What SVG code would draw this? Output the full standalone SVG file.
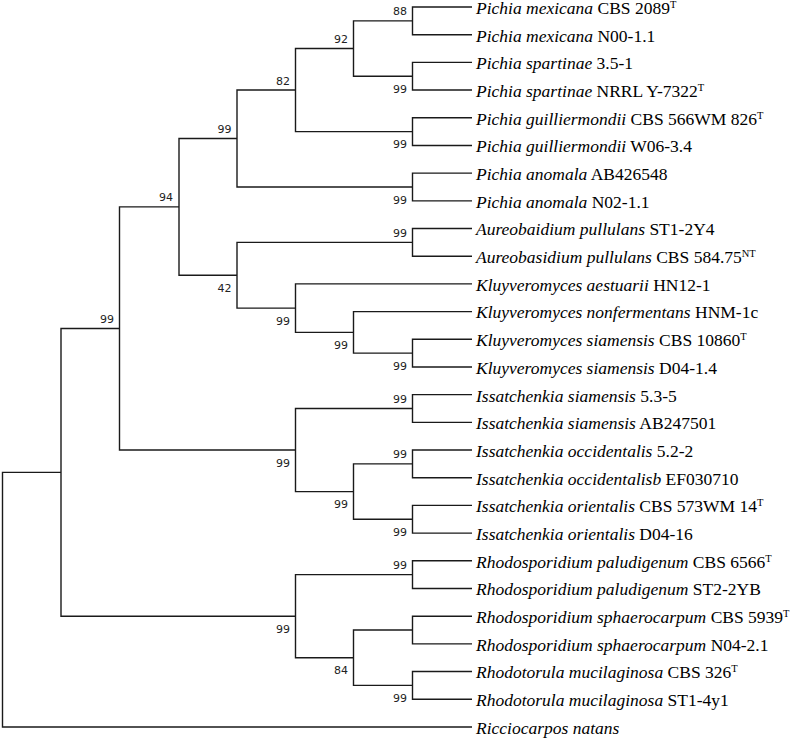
<svg xmlns="http://www.w3.org/2000/svg" width="800" height="739" viewBox="0 0 800 739">
<style>
.br{fill:none;stroke:#1a1a1a;stroke-width:1.4}
.bs{font-family:"DejaVu Sans",sans-serif;font-size:11px;fill:#222;text-anchor:end}
.lf{font-family:"Liberation Serif",serif;font-size:17.5px;fill:#000}
.sp{font-style:italic}
.sup{font-size:10.5px}
</style>
<rect width="800" height="739" fill="#fff"/>
<g id="connectors" class="br">
<path d="M472,7 H412.5 V34.69 H472"/>
<path d="M472,62.38 H412.5 V90.07 H472"/>
<path d="M472,117.76 H412.5 V145.45 H472"/>
<path d="M472,173.14 H412.5 V200.83 H472"/>
<path d="M472,228.52 H412.5 V256.21 H472"/>
<path d="M472,339.28 H412.5 V366.97 H472"/>
<path d="M472,394.66 H412.5 V422.35 H472"/>
<path d="M472,450.04 H412.5 V477.73 H472"/>
<path d="M472,505.42 H412.5 V533.11 H472"/>
<path d="M472,560.8 H412.5 V588.49 H472"/>
<path d="M472,616.18 H412.5 V643.87 H472"/>
<path d="M472,671.56 H412.5 V699.25 H472"/>
<path d="M412.5,20.85 H353.5 V76.23 H412.5"/>
<path d="M353.5,48.54 H295.5 V131.6 H412.5"/>
<path d="M295.5,90.07 H237 V187 H412.5"/>
<path d="M472,311.59 H353.5 V353.13 H412.5"/>
<path d="M472,283.9 H295.5 V332.36 H353.5"/>
<path d="M412.5,242.37 H237 V308.13 H295.5"/>
<path d="M237,138.54 H179 V275.25 H237"/>
<path d="M412.5,463.88 H353.5 V519.27 H412.5"/>
<path d="M412.5,408.5 H295.5 V491.58 H353.5"/>
<path d="M179,206.9 H119.5 V450.04 H295.5"/>
<path d="M412.5,630.03 H353.5 V685.4 H412.5"/>
<path d="M412.5,574.65 H295.5 V657.72 H353.5"/>
<path d="M119.5,328.47 H61 V616.18 H295.5"/>
<path d="M61,472.33 H2.5 V726.94 H472"/>
</g>
<g id="bootstrap">
<g id="n-mex"><text class="bs" x="407" y="15.3">88</text></g>
<g id="n-spa"><text class="bs" x="407" y="92.7">99</text></g>
<g id="n-gui"><text class="bs" x="407" y="148.1">99</text></g>
<g id="n-ano"><text class="bs" x="407" y="203.5">99</text></g>
<g id="n-aur"><text class="bs" x="407" y="236.9">99</text></g>
<g id="n-ksi"><text class="bs" x="407" y="369.6">99</text></g>
<g id="n-isi"><text class="bs" x="407" y="403">99</text></g>
<g id="n-iocc"><text class="bs" x="407" y="458.4">99</text></g>
<g id="n-iori"><text class="bs" x="407" y="535.8">99</text></g>
<g id="n-pal"><text class="bs" x="407" y="569.2">99</text></g>
<g id="n-rmu"><text class="bs" x="407" y="701.9">99</text></g>
<g id="n-G"><text class="bs" x="348" y="43">92</text></g>
<g id="n-F"><text class="bs" x="290" y="84.6">82</text></g>
<g id="n-D"><text class="bs" x="231.5" y="133">99</text></g>
<g id="n-C"><text class="bs" x="173" y="201.4">94</text></g>
<g id="n-E"><text class="bs" x="231.5" y="291.8">42</text></g>
<g id="n-H"><text class="bs" x="290" y="324.6">99</text></g>
<g id="n-I"><text class="bs" x="348" y="348.9">99</text></g>
<g id="n-B"><text class="bs" x="114" y="323">99</text></g>
<g id="n-Is"><text class="bs" x="290" y="466.5">99</text></g>
<g id="n-J"><text class="bs" x="348" y="508.1">99</text></g>
<g id="n-R"><text class="bs" x="290" y="632.7">99</text></g>
<g id="n-K"><text class="bs" x="348" y="674.2">84</text></g>
</g>
<g id="leaves" class="lf">
<g id="leaf1"><text x="476" y="13.8"><tspan class="sp">Pichia mexicana</tspan> CBS 2089<tspan class="sup" dy="-6">T</tspan></text></g>
<g id="leaf2"><text x="476" y="41.5"><tspan class="sp">Pichia mexicana</tspan> N00-1.1</text></g>
<g id="leaf3"><text x="476" y="69.2"><tspan class="sp">Pichia spartinae</tspan> 3.5-1</text></g>
<g id="leaf4"><text x="476" y="96.9"><tspan class="sp">Pichia spartinae</tspan> NRRL Y-7322<tspan class="sup" dy="-6">T</tspan></text></g>
<g id="leaf5"><text x="476" y="124.6"><tspan class="sp">Pichia guilliermondii</tspan> CBS 566WM 826<tspan class="sup" dy="-6">T</tspan></text></g>
<g id="leaf6"><text x="476" y="152.3"><tspan class="sp">Pichia guilliermondii</tspan> W06-3.4</text></g>
<g id="leaf7"><text x="476" y="179.9"><tspan class="sp">Pichia anomala</tspan> AB426548</text></g>
<g id="leaf8"><text x="476" y="207.6"><tspan class="sp">Pichia anomala</tspan> N02-1.1</text></g>
<g id="leaf9"><text x="476" y="235.3"><tspan class="sp">Aureobaidium pullulans</tspan> ST1-2Y4</text></g>
<g id="leaf10"><text x="476" y="263"><tspan class="sp">Aureobasidium pullulans</tspan> CBS 584.75<tspan class="sup" dy="-6">NT</tspan></text></g>
<g id="leaf11"><text x="476" y="290.7"><tspan class="sp">Kluyveromyces aestuarii</tspan> HN12-1</text></g>
<g id="leaf12"><text x="476" y="318.4"><tspan class="sp">Kluyveromyces nonfermentans</tspan> HNM-1c</text></g>
<g id="leaf13"><text x="476" y="346.1"><tspan class="sp">Kluyveromyces siamensis</tspan> CBS 10860<tspan class="sup" dy="-6">T</tspan></text></g>
<g id="leaf14"><text x="476" y="373.8"><tspan class="sp">Kluyveromyces siamensis</tspan> D04-1.4</text></g>
<g id="leaf15"><text x="476" y="401.5"><tspan class="sp">Issatchenkia siamensis</tspan> 5.3-5</text></g>
<g id="leaf16"><text x="476" y="429.2"><tspan class="sp">Issatchenkia siamensis</tspan> AB247501</text></g>
<g id="leaf17"><text x="476" y="456.8"><tspan class="sp">Issatchenkia occidentalis</tspan> 5.2-2</text></g>
<g id="leaf18"><text x="476" y="484.5"><tspan class="sp">Issatchenkia occidentalisb</tspan> EF030710</text></g>
<g id="leaf19"><text x="476" y="512.2"><tspan class="sp">Issatchenkia orientalis</tspan> CBS 573WM 14<tspan class="sup" dy="-6">T</tspan></text></g>
<g id="leaf20"><text x="476" y="539.9"><tspan class="sp">Issatchenkia orientalis</tspan> D04-16</text></g>
<g id="leaf21"><text x="476" y="567.6"><tspan class="sp">Rhodosporidium paludigenum</tspan> CBS 6566<tspan class="sup" dy="-6">T</tspan></text></g>
<g id="leaf22"><text x="476" y="595.3"><tspan class="sp">Rhodosporidium paludigenum</tspan> ST2-2YB</text></g>
<g id="leaf23"><text x="476" y="623"><tspan class="sp">Rhodosporidium sphaerocarpum</tspan> CBS 5939<tspan class="sup" dy="-6">T</tspan></text></g>
<g id="leaf24"><text x="476" y="650.7"><tspan class="sp">Rhodosporidium sphaerocarpum</tspan> N04-2.1</text></g>
<g id="leaf25"><text x="476" y="678.4"><tspan class="sp">Rhodotorula mucilaginosa</tspan> CBS 326<tspan class="sup" dy="-6">T</tspan></text></g>
<g id="leaf26"><text x="476" y="706.1"><tspan class="sp">Rhodotorula mucilaginosa</tspan> ST1-4y1</text></g>
<g id="leaf27"><text x="476" y="733.7"><tspan class="sp">Ricciocarpos natans</tspan></text></g>
</g>
</svg>
